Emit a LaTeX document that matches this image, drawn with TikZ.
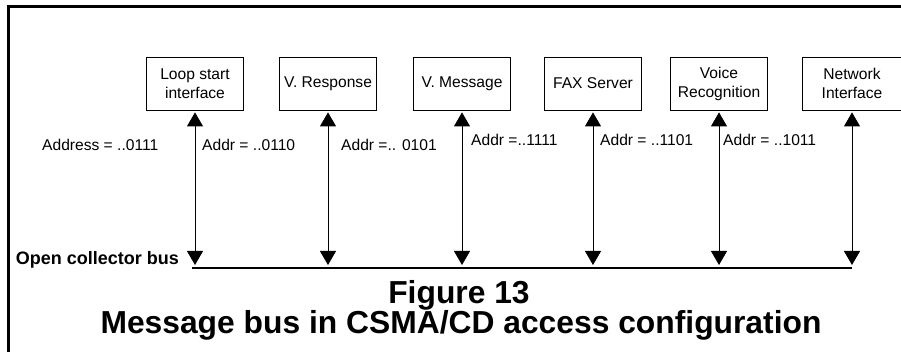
\documentclass[tikz,border=0pt]{standalone}
\usepackage{fontspec}
\setmainfont{Liberation Sans}
\usetikzlibrary{arrows.meta}

\tikzset{
  unit/.style={draw, line width=0.8pt, minimum width=97pt, minimum height=53pt, align=center, inner sep=1pt},
  addr/.style={anchor=west, inner sep=0pt},
  link/.style={line width=0.8pt, shorten <=2pt,
    {Triangle[width=16pt,length=14pt]}-{Triangle[width=16pt,length=14pt]}},
  titlefont/.style={font=\bfseries\fontsize{31.8}{30}\selectfont}
}

\begin{document}
\begin{tikzpicture}[x=1pt,y=-1pt,font=\fontsize{15.6}{19}\selectfont]
  \useasboundingbox (0,0) rectangle (901,352);
  % page frame, top and left only
  \draw[line width=3pt] (8,355) -- (8,6.5) -- (905,6.5);

  % units hanging on the bus
  \node[unit] (loop)  at (195,83.5) {Loop start\\interface};
  \node[unit] (vresp) at (328,83.5) {V. Response};
  \node[unit] (vmsg)  at (462,83.5) {V. Message};
  \node[unit] (fax)   at (593,83.5) {FAX Server};
  \node[unit] (voice) at (719,83.5) {Voice\\Recognition};
  \node[unit,minimum width=100pt] (net) at (852,83.5) {Network\\Interface};

  % the bus itself
  \coordinate (busL) at (192,268);
  \coordinate (busR) at (852,268);
  \coordinate (tap) at (0,265);
  \draw[line width=2pt] (busL) -- (busR);
  \node[anchor=east,inner sep=0pt,font=\bfseries\fontsize{18}{20}\selectfont] (buslbl) at (179,260) {Open collector bus};

  \foreach \u in {loop,vresp,vmsg,fax,voice,net}
    \draw[link] (\u.south) -- (\u.south |- tap);

  % addresses
  \node[addr] (a1) at (42,145)  {Address = ..0111};
  \node[addr] (a2) at (202,145) {Addr = ..0110};
  \node[addr] (a3) at (341,145) {Addr =.. 0101};
  \node[addr] (a4) at (471,140) {Addr =..1111};
  \node[addr] (a5) at (600,140) {Addr = ..1101};
  \node[addr] (a6) at (723,140) {Addr = ..1011};

  % caption
  \node[titlefont,anchor=base,inner sep=0pt] (fig) at (459,303) {Figure 13};
  \node[titlefont,anchor=base,inner sep=0pt] (cap) at (461,333) {Message bus in CSMA/CD access configuration};
\end{tikzpicture}
\end{document}
